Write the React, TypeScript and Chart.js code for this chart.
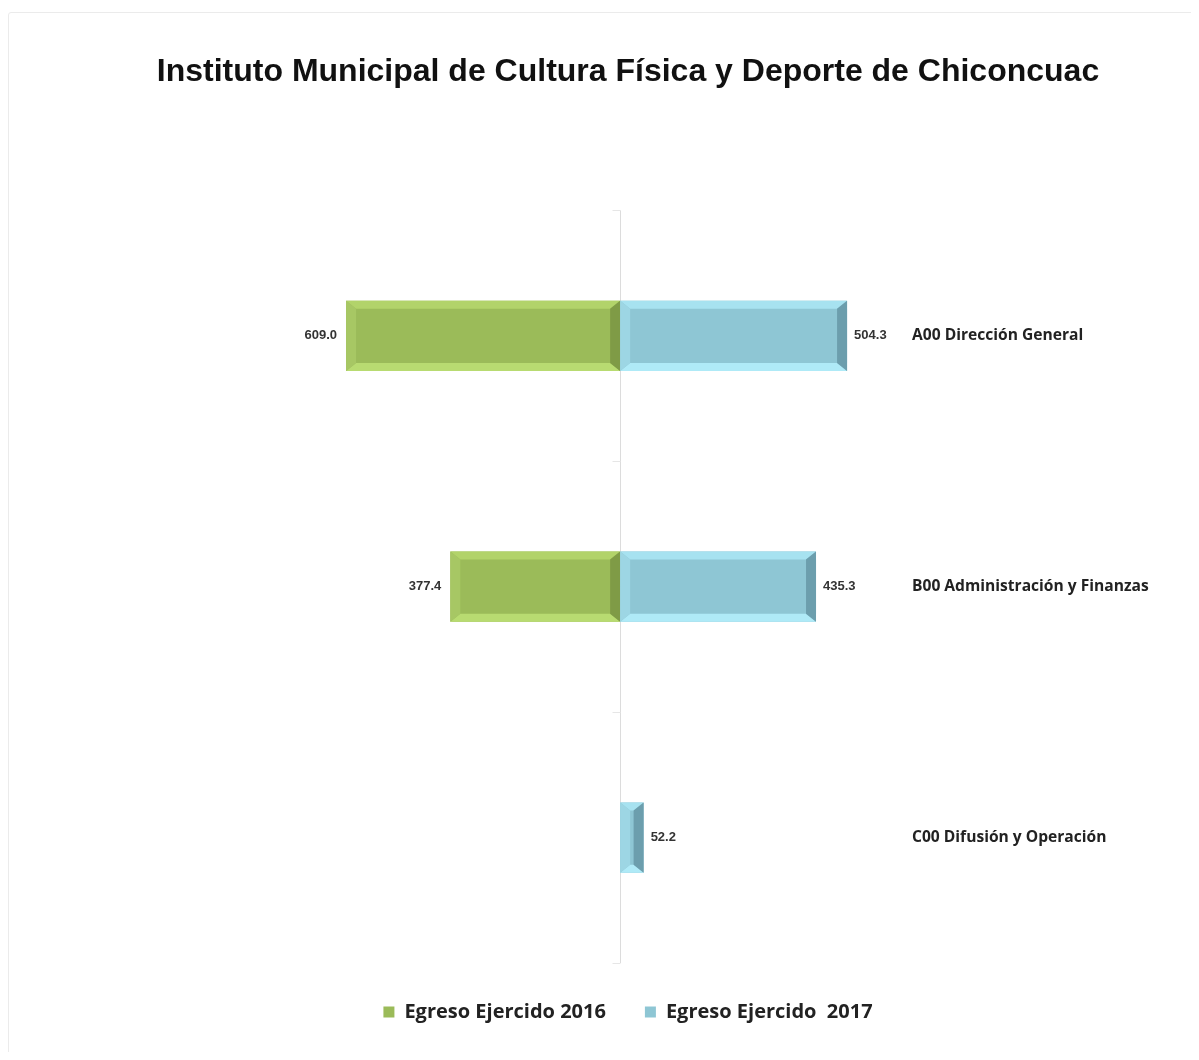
import React, { useEffect, useRef } from 'react';
import { Chart, registerables } from 'chart.js';

Chart.register(...registerables);

const TITLE = 'Instituto Municipal de Cultura Física y Deporte de Chiconcuac';
const categories = ['A00 Dirección General', 'B00 Administración y Finanzas', 'C00 Difusión y Operación'];
const seriesNames = ['Egreso Ejercido 2016', 'Egreso Ejercido  2017'];
const egreso2016: (number | null)[] = [609.0, 377.4, null];
const egreso2017: (number | null)[] = [504.3, 435.3, 52.2];

// value axis range (zero sits at the centre line)
const X_MIN = -1358;
const X_MAX = 633;

const CANVAS_W = 1238;
const CANVAS_H = 1040;

const PALETTES = [
  { face: '#9BBB59', top: '#B2D36A', bottom: '#B8DB71', left: '#A7C764', right: '#7F9B46', label: 'right' },
  { face: '#8EC6D4', top: '#A7E2F0', bottom: '#AFEAF7', left: '#9DD6E4', right: '#6C9EAD', label: 'left' },
];

const bevelPlugin = {
  id: 'bevelBars',
  beforeDatasetsDraw(chart: any) {
    const { ctx, chartArea, scales } = chart;
    const x0 = Math.round(scales.x.getPixelForValue(0)) + 0.5;
    ctx.save();
    ctx.strokeStyle = '#dcdcdc';
    ctx.lineWidth = 1;
    ctx.beginPath();
    ctx.moveTo(x0, chartArea.top);
    ctx.lineTo(x0, chartArea.bottom);
    ctx.stroke();
    ctx.strokeStyle = '#e6e6e6';
    for (let i = 0; i <= categories.length; i++) {
      const y = Math.round(scales.y.getPixelForValue(i - 0.5)) + 0.5;
      ctx.beginPath();
      ctx.moveTo(x0 - 8, y);
      ctx.lineTo(x0, y);
      ctx.stroke();
    }
    ctx.restore();
  },
  afterDatasetsDraw(chart: any) {
    const { ctx } = chart;
    chart.data.datasets.forEach((ds: any, di: number) => {
      const meta = chart.getDatasetMeta(di);
      const pal = PALETTES[di];
      meta.data.forEach((el: any, i: number) => {
        const raw = ds.data[i];
        if (raw == null) return;
        const { x, y, base, height } = el.getProps(['x', 'y', 'base', 'height'], true);
        const left = Math.min(x, base);
        const right = Math.max(x, base);
        const top = y - height / 2;
        const bottom = y + height / 2;
        const bh = Math.min(10, (right - left) / 2);
        const bv = Math.min(8, (bottom - top) / 2);
        const poly = (pts: number[][], color: string) => {
          ctx.beginPath();
          ctx.moveTo(pts[0][0], pts[0][1]);
          for (let k = 1; k < pts.length; k++) ctx.lineTo(pts[k][0], pts[k][1]);
          ctx.closePath();
          ctx.fillStyle = color;
          ctx.fill();
        };
        ctx.save();
        poly([[left, top], [right, top], [right - bh, top + bv], [left + bh, top + bv]], pal.top);
        poly([[left, bottom], [right, bottom], [right - bh, bottom - bv], [left + bh, bottom - bv]], pal.bottom);
        poly([[left, top], [left + bh, top + bv], [left + bh, bottom - bv], [left, bottom]], pal.left);
        poly([[right, top], [right - bh, top + bv], [right - bh, bottom - bv], [right, bottom]], pal.right);

        // data label
        ctx.font = 'bold 13px "Liberation Sans", Arial, sans-serif';
        ctx.fillStyle = '#333333';
        ctx.textBaseline = 'middle';
        const txt = Math.abs(raw).toFixed(1);
        if (pal.label === 'right') {
          ctx.textAlign = 'right';
          ctx.fillText(txt, left - 9, y);
        } else {
          ctx.textAlign = 'left';
          ctx.fillText(txt, right + 7, y);
        }
        ctx.restore();
      });
    });
  },
};

export default function App() {
  const ref = useRef<HTMLCanvasElement>(null);

  useEffect(() => {
    const chart = new Chart(ref.current as HTMLCanvasElement, {
      type: 'bar',
      data: {
        labels: categories,
        datasets: [
          {
            label: seriesNames[0],
            data: egreso2016.map((v) => (v == null ? null : -v)),
            backgroundColor: PALETTES[0].face,
            borderWidth: 0,
            categoryPercentage: 0.28,
            barPercentage: 1,
          },
          {
            label: seriesNames[1],
            data: egreso2017,
            backgroundColor: PALETTES[1].face,
            borderWidth: 0,
            categoryPercentage: 0.28,
            barPercentage: 1,
          },
        ],
      },
      options: {
        indexAxis: 'y',
        responsive: false,
        devicePixelRatio: 1,
        animation: false,
        events: [],
        layout: { padding: { left: 0, right: 0, top: 0, bottom: 21 } },
        scales: {
          x: {
            display: false,
            stacked: true,
            min: X_MIN,
            max: X_MAX,
          },
          y: {
            position: 'right',
            stacked: true,
            grid: { display: false, drawTicks: false },
            border: { display: false },
            ticks: {
              padding: 7,
              color: '#222222',
              font: { family: '"Open Sans", "Noto Sans", sans-serif', size: 15.6, weight: 'bold' },
            },
            afterFit: (scale: any) => {
              scale.width = 342;
            },
          },
        },
        plugins: {
          title: {
            display: true,
            text: TITLE,
            color: '#111111',
            font: { family: '"Liberation Sans", Arial, sans-serif', size: 32, weight: 'bold' },
            padding: { top: 40, bottom: 119 },
          },
          legend: {
            display: true,
            position: 'bottom',
            labels: {
              boxWidth: 11,
              boxHeight: 11,
              padding: 39,
              color: '#222222',
              font: { family: '"Open Sans", "Noto Sans", sans-serif', size: 20, weight: 'bold' },
            },
          },
          tooltip: { enabled: false },
        },
      },
      plugins: [bevelPlugin],
    } as any);
    return () => chart.destroy();
  }, []);

  return (
    <div style={{ width: 1183, height: 1044, overflow: 'hidden', position: 'relative' }}>
      <div
        style={{
          position: 'absolute',
          left: 0,
          top: 4,
          width: 1240,
          height: 1050,
          border: '1px solid #ebebeb',
          borderRadius: 3,
          boxSizing: 'border-box',
        }}
      >
        <canvas ref={ref} width={CANVAS_W} height={CANVAS_H} style={{ display: 'block', width: CANVAS_W, height: CANVAS_H }} />
      </div>
    </div>
  );
}
